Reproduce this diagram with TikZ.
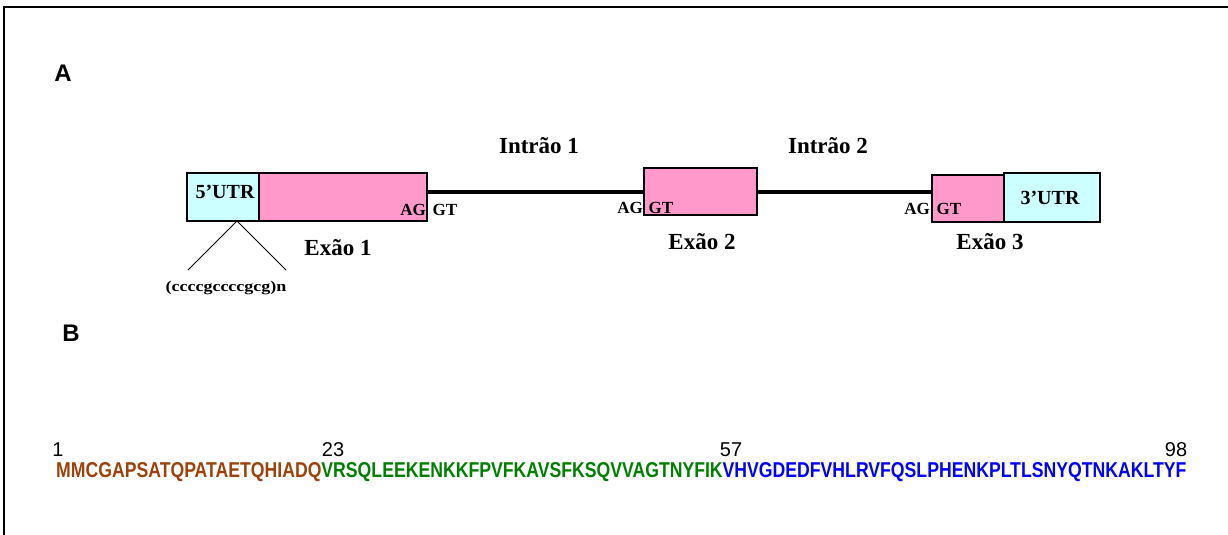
\documentclass[tikz,border=0pt]{standalone}
\usepackage{fontspec}
\setmainfont{Liberation Serif}
\setsansfont{Liberation Sans}
\usepackage{graphicx}
\definecolor{utrcyan}{HTML}{CCFFFF}
\definecolor{exonpink}{HTML}{FF99CC}
\definecolor{seqbrown}{HTML}{A0400A}
\definecolor{seqgreen}{HTML}{008000}
\definecolor{seqblue}{HTML}{0000FF}
\begin{document}
\begin{tikzpicture}[x=1pt,y=-1pt,
  utrbox/.style={draw=black,line width=1.2pt,fill=utrcyan},
  exonbox/.style={draw=black,line width=1.2pt,fill=exonpink},
  intron/.style={line width=4pt},
  panel/.style={font=\sffamily\bfseries\fontsize{24}{24}\selectfont},
  biglabel/.style={font=\bfseries\fontsize{23}{23}\selectfont,inner sep=0pt},
  utrtext/.style={font=\bfseries\fontsize{20}{20}\selectfont,inner sep=0pt},
  site/.style={font=\bfseries\fontsize{17}{17}\selectfont,inner sep=0pt},
  posnum/.style={font=\sffamily\fontsize{20}{20}\selectfont,inner sep=0pt}]
\useasboundingbox (0,0) rectangle (1228,535);

% open frame: top and left sides
\draw[line width=2pt] (3.5,535) -- (3.5,7) -- (1228,7);

% panel letters
\node[panel] (pa) at (63,73) {A};
\node[panel] (pb) at (71,333) {B};

% gene structure
\draw[utrbox] (187,173) rectangle (259,221);
\draw[exonbox] (259,173) rectangle (427,221);
\coordinate (e1r) at (427,192);
\coordinate (e2l) at (644,192);
\coordinate (e2r) at (757,192);
\coordinate (e3l) at (932,192);
\draw[intron] (e1r) -- (e2l);
\draw[intron] (e2r) -- (e3l);
\draw[exonbox] (644,168) rectangle (757,215);
\draw[exonbox] (932,175) rectangle (1004,222);
\draw[utrbox] (1004,173) rectangle (1100,222);

\node[utrtext] (u5) at (225,192) {5’UTR};
\node[utrtext] (u3) at (1050,198) {3’UTR};

\node[site] (ag1) at (413,210) {AG};
\node[site] (gt1) at (445,210) {GT};
\node[site] (ag2) at (630,208) {AG};
\node[site] (gt2) at (661,208) {GT};
\node[site] (ag3) at (917,209) {AG};
\node[site] (gt3) at (949,209) {GT};

\node[biglabel] (i1) at (539,146) {Intrão 1};
\node[biglabel] (i2) at (828,146) {Intrão 2};
\node[biglabel] (x1) at (338,248) {Exão 1};
\node[biglabel] (x2) at (702,242) {Exão 2};
\node[biglabel] (x3) at (990,242) {Exão 3};

% repeat in the 5' UTR
\coordinate (rpt) at (237,221);
\coordinate (rl) at (188,270);
\coordinate (rr) at (286,270);
\draw[line width=1pt] (rl) -- (rpt) -- (rr);
\node[font=\bfseries\fontsize{15}{15}\selectfont,inner sep=0pt] (rep) at (226,288)
  {\scalebox{1.2}[1]{(ccccgccccgcg)n}};

% protein sequence
\node[posnum] (n1) at (58,450) {1};
\node[posnum] (n23) at (333,450) {23};
\node[posnum] (n57) at (731,450) {57};
\node[posnum] (n98) at (1176,450) {98};
\node[inner sep=0pt,anchor=base west] (seq) at (56,477)
  {\resizebox{1130pt}{15pt}{\sffamily\bfseries
   \textcolor{seqbrown}{MMCGAPSATQPATAETQHIADQ}%
   \textcolor{seqgreen}{VRSQLEEKENKKFPVFKAVSFKSQVVAGTNYFIK}%
   \textcolor{seqblue}{VHVGDEDFVHLRVFQSLPHENKPLTLSNYQTNKAKLTYF}}};
\end{tikzpicture}
\end{document}
